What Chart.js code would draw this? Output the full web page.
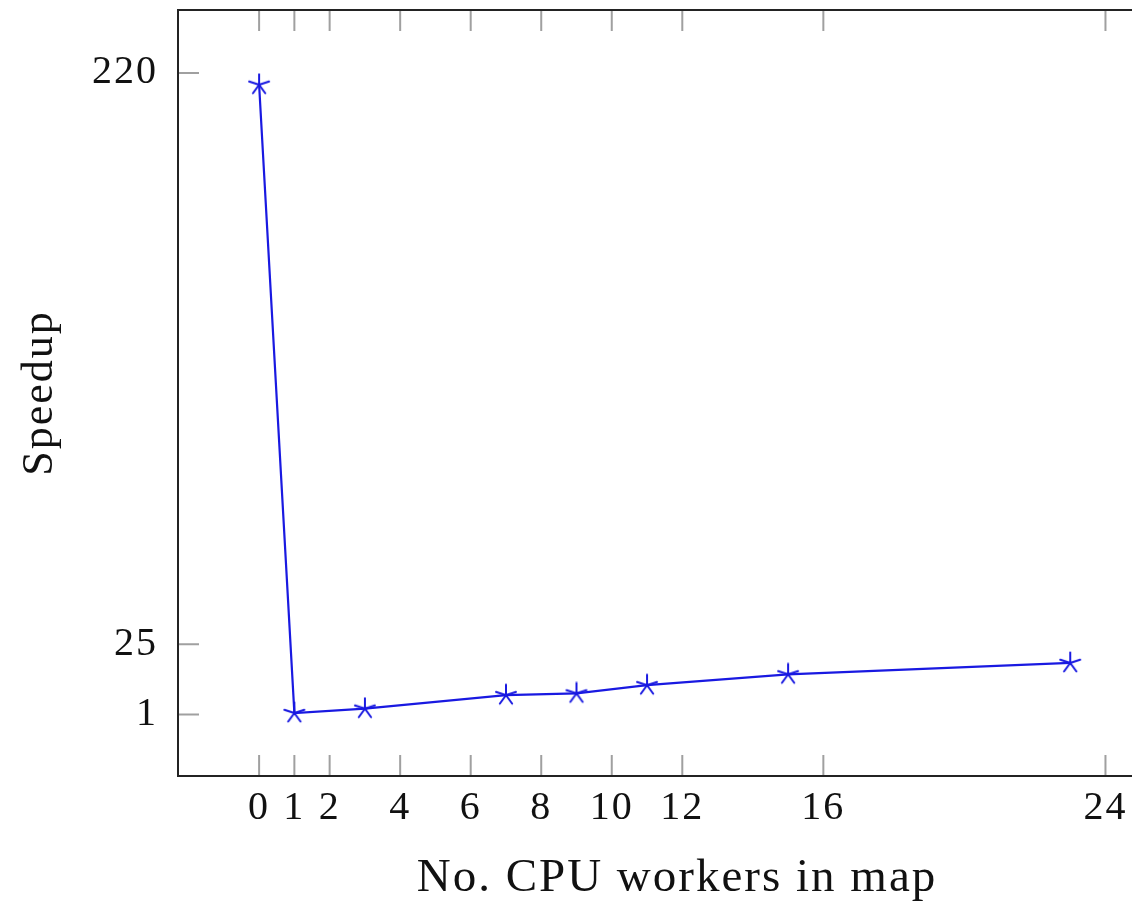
<!DOCTYPE html>
<html>
<head>
<meta charset="utf-8">
<script src="https://cdn.jsdelivr.net/npm/chart.js@4/dist/chart.umd.min.js"></script>
<style>
  html, body { margin: 0; padding: 0; background: #fff; overflow: hidden; }
  canvas { display: block; }
</style>
</head>
<body>
<canvas id="speedupChart" width="1185" height="902"></canvas>
<script>
const workers = [0, 1, 3, 7, 9, 11, 15, 23];
const speedup = [216, 1.5, 3.0, 7.6, 8.2, 11.0, 14.7, 18.6];
const xTickValues = [0, 1, 2, 4, 6, 8, 10, 12, 16, 24];
const yTickValues = [1, 25, 220];

const serif = '"Liberation Serif", "DejaVu Serif", serif';
const lineBlue = 'rgb(25, 25, 225)';

// five-armed asterisk marker, like the pgfplots "star"
function makeStar(size, color) {
  const c = document.createElement('canvas');
  c.width = size;
  c.height = size;
  const g = c.getContext('2d');
  const r = size / 2 - 1.5;
  g.strokeStyle = color;
  g.lineWidth = 2;
  g.lineCap = 'round';
  g.beginPath();
  for (let i = 0; i < 5; i++) {
    const a = -Math.PI / 2 + i * 2 * Math.PI / 5;
    g.moveTo(size / 2, size / 2);
    g.lineTo(size / 2 + r * Math.cos(a), size / 2 + r * Math.sin(a));
  }
  g.stroke();
  return c;
}
const starMark = makeStar(24, lineBlue);

// slightly looser text, closer to the TeX look
const textSpacing = {
  id: 'textSpacing',
  beforeDraw(chart) {
    chart.ctx.letterSpacing = '2px';
  }
};

// box around the plot plus inward tick marks on all four sides
const frameTicks = {
  id: 'frameTicks',
  beforeDatasetsDraw(chart) {
    const { ctx, chartArea: a, scales } = chart;
    const len = 21;
    ctx.save();
    ctx.strokeStyle = 'rgb(160, 160, 160)';
    ctx.lineWidth = 2;
    ctx.beginPath();
    scales.x.ticks.forEach(t => {
      const px = scales.x.getPixelForValue(t.value);
      ctx.moveTo(px, a.bottom);
      ctx.lineTo(px, a.bottom - len);
      ctx.moveTo(px, a.top);
      ctx.lineTo(px, a.top + len);
    });
    scales.y.ticks.forEach(t => {
      const py = scales.y.getPixelForValue(t.value);
      ctx.moveTo(a.left, py);
      ctx.lineTo(a.left + len, py);
      ctx.moveTo(a.right, py);
      ctx.lineTo(a.right - len, py);
    });
    ctx.stroke();
    ctx.strokeStyle = 'rgb(35, 35, 35)';
    ctx.lineWidth = 2;
    ctx.strokeRect(a.left, a.top, a.right - a.left, a.bottom - a.top);
    ctx.restore();
  }
};

const ctx = document.getElementById('speedupChart').getContext('2d');
new Chart(ctx, {
  type: 'line',
  data: {
    datasets: [{
      data: workers.map((w, i) => ({ x: w, y: speedup[i] })),
      borderColor: lineBlue,
      borderWidth: 2.2,
      pointStyle: starMark,
      pointRadius: 12,
      tension: 0,
      fill: false
    }]
  },
  options: {
    responsive: false,
    animation: false,
    layout: { autoPadding: false, padding: { top: 10, right: 9, left: 0, bottom: 0 } },
    plugins: {
      legend: { display: false },
      tooltip: { enabled: false }
    },
    scales: {
      x: {
        type: 'linear',
        min: -2.3,
        max: 26.0,
        afterBuildTicks: scale => { scale.ticks = xTickValues.map(v => ({ value: v })); },
        afterFit: scale => {
          scale.height = 126;
          scale.paddingLeft = 0;
          scale.paddingRight = 0;
        },
        grid: { display: false, drawTicks: false },
        border: { display: false },
        ticks: {
          padding: 8,
          color: '#111',
          font: { family: serif, size: 40 },
          callback: v => String(v),
          maxRotation: 0,
          autoSkip: false
        },
        title: {
          display: true,
          text: 'No. CPU workers in map',
          color: '#111',
          font: { family: serif, size: 47, lineHeight: 1.0 },
          padding: { top: 0, bottom: 0 }
        }
      },
      y: {
        type: 'linear',
        min: -20,
        max: 241.5,
        afterBuildTicks: scale => { scale.ticks = yTickValues.map(v => ({ value: v })); },
        afterFit: scale => {
          scale.width = 178;
          scale.paddingTop = 0;
          scale.paddingBottom = 0;
        },
        grid: { display: false, drawTicks: false },
        border: { display: false },
        ticks: {
          padding: 20,
          color: '#111',
          font: { family: serif, size: 40 },
          callback: v => String(v)
        },
        title: {
          display: true,
          text: 'Speedup',
          color: '#111',
          font: { family: serif, size: 44, lineHeight: 1.0 },
          padding: { top: 18, bottom: 0 }
        }
      }
    }
  },
  plugins: [textSpacing, frameTicks]
});
</script>
</body>
</html>
